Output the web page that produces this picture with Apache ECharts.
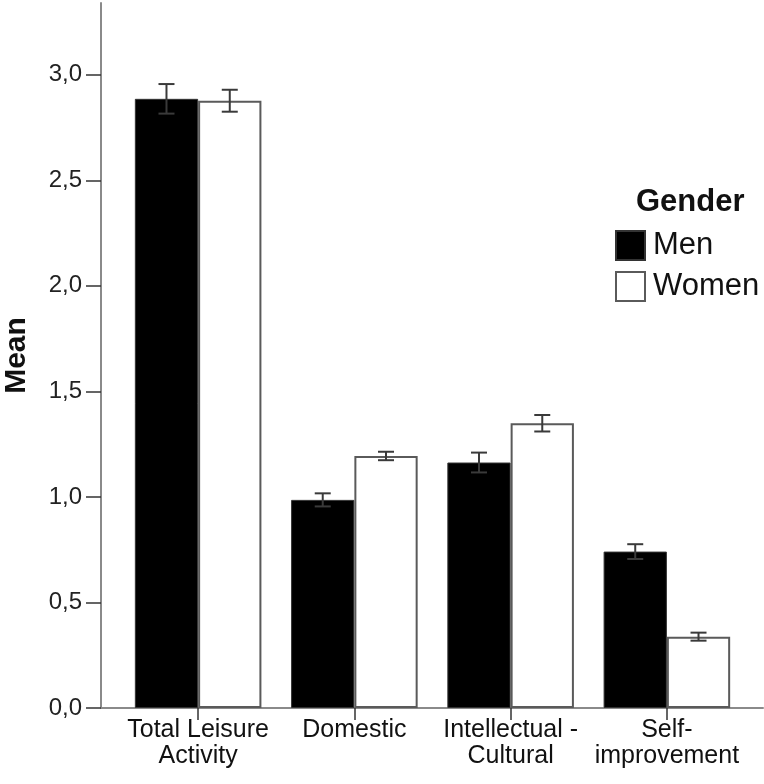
<!DOCTYPE html>
<html>
<head>
<meta charset="utf-8">
<script src="https://cdn.jsdelivr.net/npm/echarts@6/dist/echarts.min.js"></script>
<style>html,body{margin:0;padding:0;background:#fff}#c{width:764px;height:784px}</style>
</head>
<body>
<div id="c"></div>
<script>
var categories = ['Total Leisure\nActivity', 'Domestic', 'Intellectual -\nCultural', 'Self-\nimprovement'];
var menMean = [2.886, 0.986, 1.163, 0.741];
var womenMean = [2.877, 1.194, 1.349, 0.338];
var menErr = [0.07, 0.031, 0.047, 0.035];
var womenErr = [0.052, 0.02, 0.039, 0.019];
var yTicks = [0, 0.5, 1.0, 1.5, 2.0, 2.5, 3.0];
var seriesNames = ['Men', 'Women'];
var legendTitle = 'Gender';
var yName = 'Mean';

var FONT = 'Liberation Sans, Arial, sans-serif';
var GAP = 0.19;
var Y_MAX = 3.34;

function errRender(means, errs, side) {
  return function (params, api) {
    var i = api.value(0);
    var m = means[i], e = errs[i];
    var c = api.coord([i, m]);
    var band = api.size([1, 0])[0];
    var bw = band * (1 - GAP) / 2;
    var x = c[0] + side * bw / 2;
    var top = api.coord([i, m + e])[1];
    var bot = api.coord([i, m - e])[1];
    var hw = 8;
    var st = { stroke: '#3a3a3a', lineWidth: 2 };
    return {
      type: 'group',
      children: [
        { type: 'line', shape: { x1: x, y1: top, x2: x, y2: bot }, style: st },
        { type: 'line', shape: { x1: x - hw, y1: top, x2: x + hw, y2: top }, style: st },
        { type: 'line', shape: { x1: x - hw, y1: bot, x2: x + hw, y2: bot }, style: st }
      ]
    };
  };
}

var chart = echarts.init(document.getElementById('c'));
chart.setOption({
  animation: false,
  backgroundColor: '#fff',
  title: {
    text: legendTitle,
    left: 631, top: 182,
    textStyle: { fontFamily: FONT, fontSize: 31, fontWeight: 'bold', color: '#111' }
  },
  legend: {
    orient: 'vertical',
    left: 615, top: 230, padding: 0,
    icon: 'rect',
    itemWidth: 29, itemHeight: 29, itemGap: 10,
    data: seriesNames,
    textStyle: { fontFamily: FONT, fontSize: 31, lineHeight: 29, color: '#111', padding: [0, 0, 0, 3] }
  },
  grid: [
    { left: 101, right: 1, top: 3, bottom: 76, outerBoundsMode: 'none', containLabel: false },
    { left: 120, right: 19, top: 3, bottom: 76, outerBoundsMode: 'none', containLabel: false }
  ],
  xAxis: [
    {
      gridIndex: 0, type: 'category', data: categories,
      axisLine: { lineStyle: { color: '#8a8a8a', width: 2 } },
      axisTick: { show: false }, axisLabel: { show: false }, splitLine: { show: false }
    },
    {
      gridIndex: 1, type: 'category', data: categories,
      axisLine: { show: false },
      axisTick: { show: true, alignWithLabel: true, length: 12, lineStyle: { color: '#333', width: 1.5 } },
      axisLabel: { fontFamily: FONT, fontSize: 25, color: '#111', lineHeight: 26, margin: 9, interval: 0 }
    }
  ],
  yAxis: [
    {
      gridIndex: 0, type: 'value', min: 0, max: Y_MAX, interval: 0.5,
      name: yName, nameLocation: 'middle', nameGap: 69,
      nameTextStyle: { fontFamily: FONT, fontSize: 30, fontWeight: 'bold', color: '#111' },
      axisLine: { show: true, lineStyle: { color: '#8a8a8a', width: 2 } },
      axisTick: { show: true, length: 15, customValues: yTicks, lineStyle: { color: '#333', width: 1.5 } },
      axisLabel: {
        fontFamily: FONT, fontSize: 24, color: '#222', margin: 19, customValues: yTicks,
        formatter: function (v) { return v.toFixed(1).replace('.', ','); }
      },
      splitLine: { show: false }
    },
    {
      gridIndex: 1, type: 'value', min: 0, max: Y_MAX, interval: 0.5, show: false,
      splitLine: { show: false }
    }
  ],
  series: [
    {
      name: seriesNames[0], type: 'bar', xAxisIndex: 1, yAxisIndex: 1,
      data: menMean, barGap: '0%', barCategoryGap: (GAP * 100) + '%',
      itemStyle: { color: '#000', borderColor: '#333', borderWidth: 1 }
    },
    {
      name: seriesNames[1], type: 'bar', xAxisIndex: 1, yAxisIndex: 1,
      data: womenMean, barGap: '0%', barCategoryGap: (GAP * 100) + '%',
      itemStyle: { color: '#fff', borderColor: '#5a5a5a', borderWidth: 2 }
    },
    {
      type: 'custom', xAxisIndex: 1, yAxisIndex: 1, z: 5,
      data: menMean.map(function (v, i) { return [i, v]; }),
      renderItem: errRender(menMean, menErr, -1), silent: true
    },
    {
      type: 'custom', xAxisIndex: 1, yAxisIndex: 1, z: 5,
      data: womenMean.map(function (v, i) { return [i, v]; }),
      renderItem: errRender(womenMean, womenErr, 1), silent: true
    }
  ]
});
</script>
</body>
</html>
